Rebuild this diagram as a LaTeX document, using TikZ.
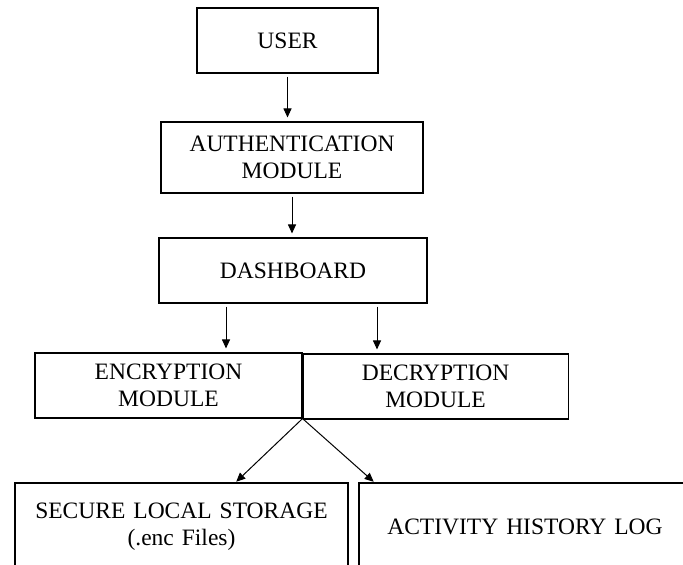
\documentclass[tikz,border=0pt]{standalone}
\usepackage{fontspec}
\setmainfont{Liberation Serif}
\usetikzlibrary{arrows.meta,positioning}
\newcommand\boxfont{\fontsize{23.5}{27.5}\selectfont\spaceskip=8pt\relax}

\begin{document}
\begin{tikzpicture}[x=1pt, y=-1pt, >={Triangle[length=9pt,width=8pt]},
  r/.style={draw, line width=1.1pt, align=center, inner sep=0pt, minimum height=65pt, font=\boxfont},
  e/.style={->, line width=1pt, shorten <=3pt, shorten >=4pt}]
\useasboundingbox (0,0) rectangle (683,565);
\clip (0,0) rectangle (683,565);
\node[r, minimum width=181pt] (usr) at (287.5,40.5) {USER};
\node[r, minimum width=262pt, minimum height=71pt] (auth) at (292,157.5) {AUTHENTICATION\\MODULE};
\node[r, minimum width=268pt] (dash) at (293,270.5) {DASHBOARD};
\node[r, minimum width=267pt] (enc) at (168.5,385.5) {ENCRYPTION\\MODULE};
\node[r, minimum width=265pt, right=0pt of enc, yshift=-1pt] (dec) {DECRYPTION\\MODULE};
\node[r, minimum width=333pt, minimum height=87pt] (sec) at (181.5,526.5) {SECURE LOCAL STORAGE\\(.enc Files)};
\node[r, minimum width=332pt, minimum height=87pt] (act) at (525,526.5) {ACTIVITY HISTORY LOG};
\draw[e] (usr) -- (usr |- auth.north);
\draw[e] (auth) -- (auth |- dash.north);
\draw[e] ([xshift=-67pt]dash.south) -- ([xshift=-67pt]dash.south |- enc.north);
\draw[e] ([xshift=84pt]dash.south) -- ([xshift=84pt]dash.south |- dec.north);
\draw[e, shorten <=0pt, shorten >=1pt] (enc.south east) -- ([xshift=54pt]sec.north);
\draw[e, shorten <=0pt, shorten >=1pt] (enc.south east) -- ([xshift=16pt]act.north west);
\end{tikzpicture}
\end{document}
